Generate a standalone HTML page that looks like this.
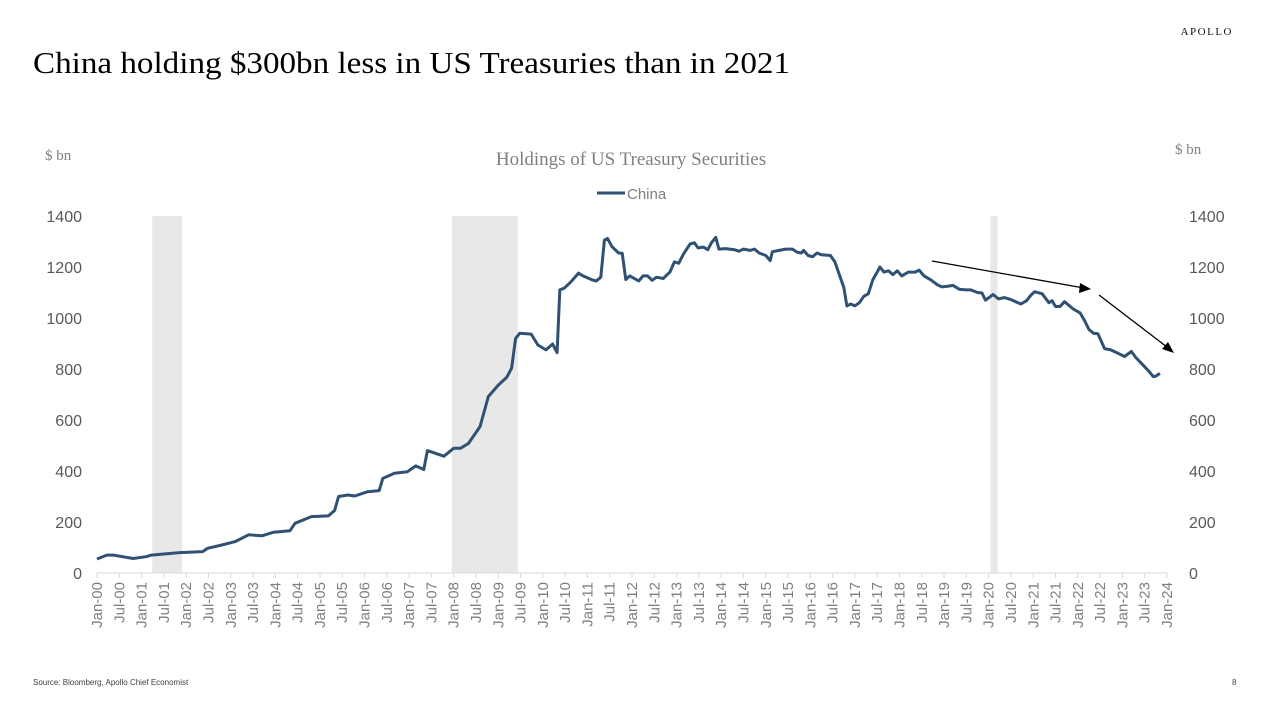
<!DOCTYPE html>
<html><head><meta charset="utf-8"><style>
body{margin:0;background:#fff;}
svg{display:block;}
</style></head><body>
<svg id="chart" width="1262" height="706" viewBox="0 0 1262 706" xmlns="http://www.w3.org/2000/svg">
<text x="1233" y="35" text-anchor="end" font-family="Liberation Serif, serif" font-size="11" letter-spacing="1.5" fill="#111">APOLLO</text>
<text x="33" y="73" font-family="Liberation Serif, serif" font-size="31" fill="#000" textLength="757" lengthAdjust="spacingAndGlyphs">China holding $300bn less in US Treasuries than in 2021</text>
<text x="631" y="165" text-anchor="middle" font-family="Liberation Serif, serif" font-size="19" fill="#7f7f7f">Holdings of US Treasury Securities</text>
<text x="45" y="160" font-family="Liberation Serif, serif" font-size="15" fill="#7f7f7f">$ bn</text>
<text x="1175" y="154" font-family="Liberation Serif, serif" font-size="15" fill="#7f7f7f">$ bn</text>
<g>
<line x1="597" y1="193" x2="625" y2="193" stroke="#2f5173" stroke-width="3"/>
<text x="627" y="199" font-family="Liberation Sans, sans-serif" font-size="15" fill="#7f7f7f">China</text>
</g>
<g id="plot"></g>
<g>
<line x1="932" y1="261" x2="1084" y2="288" stroke="#000" stroke-width="1.3"/>
<polygon points="1091,289 1080,283 1079,293" fill="#000"/>
<line x1="1099" y1="295" x2="1167" y2="347" stroke="#000" stroke-width="1.3"/>
<polygon points="1174,353 1162,349 1168,342" fill="#000"/>
</g>
<text x="33" y="685" font-family="Liberation Sans, sans-serif" font-size="8" fill="#404040">Source: Bloomberg, Apollo Chief Economist</text>
<text x="1232" y="685" font-family="Liberation Sans, sans-serif" font-size="8" fill="#404040">8</text>
</svg>
<script>
const dates = [2000.0,2000.22,2000.37,2000.81,2001.1,2001.22,2001.85,2002.37,2002.48,2002.8,2003.1,2003.4,2003.7,2003.96,2004.33,2004.44,2004.81,2005.19,2005.33,2005.42,2005.63,2005.78,2006.07,2006.33,2006.41,2006.67,2006.96,2007.15,2007.33,2007.41,2007.78,2008.0,2008.15,2008.33,2008.59,2008.78,2009.0,2009.19,2009.3,2009.39,2009.48,2009.74,2009.89,2010.07,2010.22,2010.32,2010.38,2010.48,2010.62,2010.8,2010.9,2011.1,2011.2,2011.3,2011.38,2011.45,2011.55,2011.7,2011.78,2011.86,2011.95,2012.15,2012.25,2012.35,2012.45,2012.55,2012.7,2012.85,2012.95,2013.05,2013.15,2013.3,2013.4,2013.48,2013.6,2013.7,2013.78,2013.88,2013.95,2014.1,2014.3,2014.4,2014.5,2014.65,2014.75,2014.85,2015.0,2015.1,2015.15,2015.3,2015.45,2015.6,2015.7,2015.8,2015.85,2015.95,2016.05,2016.15,2016.25,2016.45,2016.55,2016.65,2016.75,2016.82,2016.9,2017.0,2017.1,2017.2,2017.3,2017.4,2017.5,2017.56,2017.65,2017.75,2017.85,2017.95,2018.05,2018.2,2018.35,2018.44,2018.55,2018.7,2018.85,2018.95,2019.1,2019.2,2019.35,2019.5,2019.6,2019.75,2019.85,2019.93,2020.1,2020.22,2020.35,2020.5,2020.72,2020.85,2020.95,2021.03,2021.2,2021.35,2021.42,2021.5,2021.6,2021.7,2021.9,2022.05,2022.15,2022.25,2022.35,2022.45,2022.6,2022.74,2022.92,2023.05,2023.2,2023.3,2023.46,2023.6,2023.69,2023.75,2023.84];
const chinaValues = [55,70,70,57,64,70,80,84,97,110,123,150,146,160,166,195,221,224,245,300,306,302,319,323,371,391,397,420,406,480,458,489,489,508,574,692,737,767,803,920,940,937,894,875,898,864,1110,1117,1140,1176,1165,1150,1145,1160,1305,1312,1280,1255,1254,1151,1165,1145,1165,1165,1148,1160,1155,1180,1220,1215,1250,1290,1295,1275,1278,1268,1295,1316,1270,1272,1268,1262,1270,1265,1270,1255,1245,1225,1260,1265,1270,1270,1258,1255,1265,1245,1240,1255,1248,1245,1220,1170,1120,1047,1055,1048,1060,1085,1095,1150,1180,1200,1180,1185,1170,1185,1165,1180,1180,1188,1165,1150,1130,1122,1125,1128,1112,1110,1110,1100,1098,1070,1092,1075,1080,1072,1055,1068,1090,1103,1095,1060,1068,1045,1045,1064,1035,1020,990,955,940,938,880,875,860,849,869,845,816,790,770,772,783];
const recessionStarts = [2001.24, 2007.96, 2020.04];
const recessionEnds = [2001.91, 2009.44, 2020.2];
const yTicks = [0,200,400,600,800,1000,1200,1400];
const monthNames = ["Jan","Jul"];

const NS = "http://www.w3.org/2000/svg";
const X0 = 97, X1 = 1167, T0 = 2000, T1 = 2024;
const Y0 = 573, Y1 = 216, V0 = 0, V1 = 1400;
const xs = t => X0 + (t - T0) / (T1 - T0) * (X1 - X0);
const ys = v => Y0 - (v - V0) / (V1 - V0) * (Y0 - Y1);
const plot = document.getElementById('plot');
function mk(tag, attrs){ const e=document.createElementNS(NS,tag); for(const k in attrs) e.setAttribute(k,attrs[k]); return e; }

recessionStarts.forEach((s,i)=>{
  const r = mk('rect',{x:xs(s),y:Y1,width:xs(recessionEnds[i])-xs(s),height:Y0-Y1,fill:'#e8e8e8'});
  
  
  plot.appendChild(r);
});

const axis = mk('line',{x1:X0,y1:Y0,x2:X1,y2:Y0,stroke:'#d9d9d9','stroke-width':1});


plot.appendChild(axis);

yTicks.forEach(v=>{
  const l = mk('text',{x:82,y:ys(v)+6,'text-anchor':'end','font-family':'Liberation Sans, sans-serif','font-size':16,fill:'#595959'});
  l.textContent = v;
  
  
  plot.appendChild(l);
  const r = mk('text',{x:1189,y:ys(v)+6,'font-family':'Liberation Sans, sans-serif','font-size':16,fill:'#595959'});
  r.textContent = v;
  
  
  plot.appendChild(r);
});

for(let i=0;i<=48;i++){
  const t = T0 + i*0.5, x = xs(t);
  const tk = mk('line',{x1:x,y1:Y0,x2:x,y2:Y0+5,stroke:'#d9d9d9'});
  
  
  plot.appendChild(tk);
  const yr = String(Math.floor(t)%100).padStart(2,'0');
  const lab = mk('text',{x:0,y:0,'text-anchor':'end','font-family':'Liberation Sans, sans-serif','font-size':15,fill:'#7f7f7f',transform:`translate(${x+5},${Y0+9}) rotate(-90)`});
  lab.textContent = monthNames[i%2] + '-' + yr;
  
  
  plot.appendChild(lab);
}

const d = dates.map((t,i)=>(i?'L':'M')+xs(t).toFixed(1)+','+ys(chinaValues[i]).toFixed(1)).join(' ');
const path = mk('path',{d:d,fill:'none',stroke:'#2f5173','stroke-width':3,'stroke-linejoin':'round'});


plot.appendChild(path);
</script>
</body></html>
